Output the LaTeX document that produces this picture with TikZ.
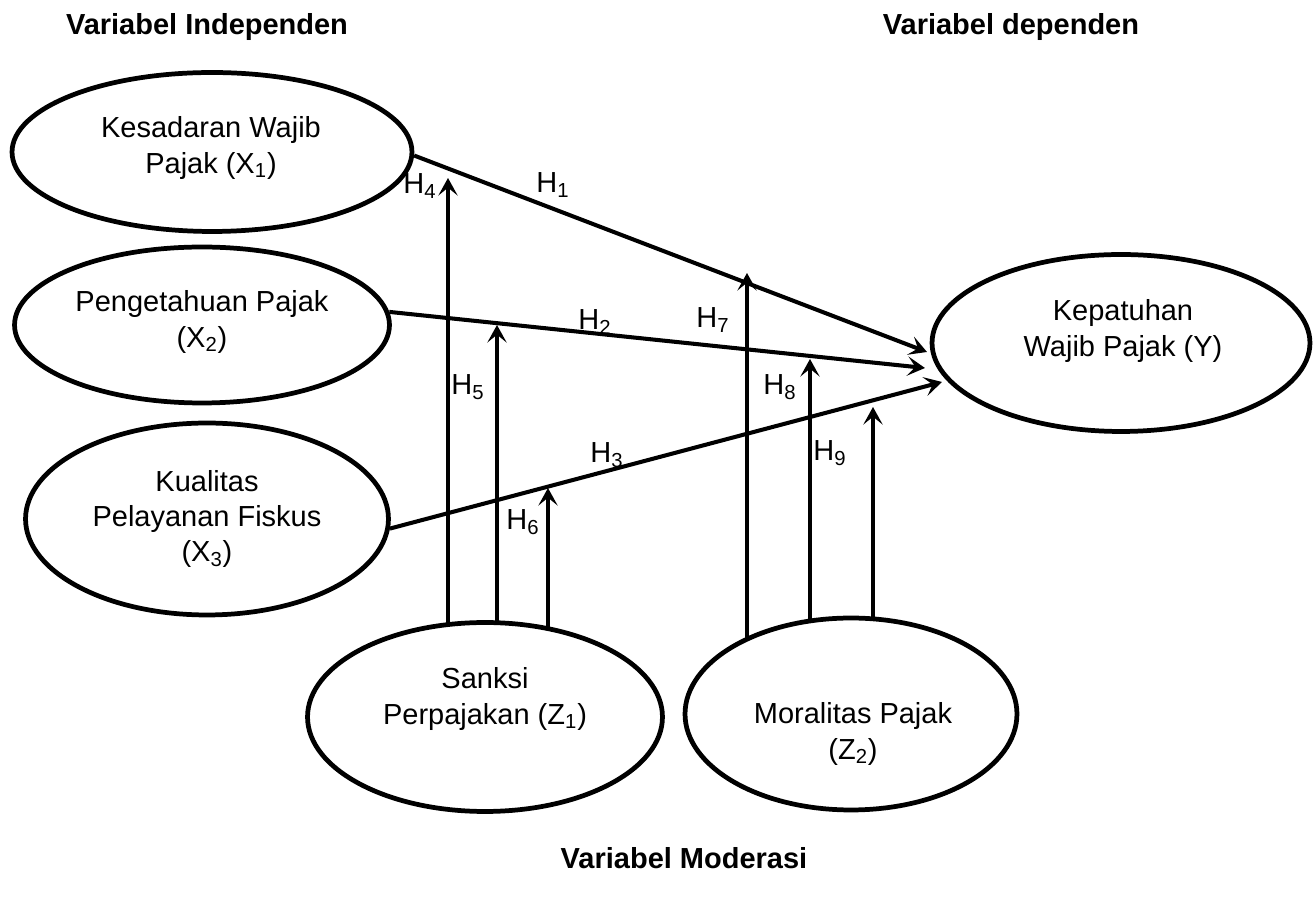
\documentclass[tikz,border=0pt]{standalone}
\usepackage{fontspec}
\setmainfont{Liberation Sans}
\usetikzlibrary{arrows.meta,backgrounds,shapes.geometric}
\begin{document}
\begin{tikzpicture}[x=0.02cm,y=-0.02cm,
  var/.style={draw,ellipse,line width=2.7pt,fill=white,inner sep=0pt},
  txt/.style={align=center,font=\fontsize{16.5}{20}\selectfont,inner sep=0pt},
  hdr/.style={font=\fontsize{16.5}{20}\selectfont\bfseries,inner sep=0pt},
  hl/.style={font=\fontsize{16.5}{20}\selectfont,inner sep=0pt},
  path/.style={line width=2.3pt,-{Stealth[length=10pt,width=11pt,inset=4.5pt]}}]
\useasboundingbox (0,0) rectangle (1313,901);
% ellipses
\node[var,minimum width=8cm,minimum height=3.18cm] (X1) at (212,152) {};
\node[var,minimum width=7.5cm,minimum height=3.12cm] (X2) at (202,325) {};
\node[var,minimum width=7.26cm,minimum height=3.84cm] (X3) at (207,519) {};
\node[var,minimum width=7.56cm,minimum height=3.54cm] (Y) at (1121,343) {};
\node[var,minimum width=7.1cm,minimum height=3.78cm] (Z1) at (485,717) {};
\node[var,minimum width=6.64cm,minimum height=3.84cm] (Z2) at (851,714) {};
% texts
\node[txt] (tX1) at (211,148) {Kesadaran Wajib\\Pajak (X\textsubscript{1})};
\node[txt] (tX2) at (202,322) {Pengetahuan Pajak\\(X\textsubscript{2})};
\node[txt] (tX3) at (207,519) {Kualitas\\Pelayanan Fiskus\\(X\textsubscript{3})};
\node[txt] (tY) at (1123,331) {Kepatuhan\\Wajib Pajak (Y)};
\node[txt] (tZ1) at (485,699) {Sanksi\\Perpajakan (Z\textsubscript{1})};
\node[txt] (tZ2) at (853,734) {Moralitas Pajak\\(Z\textsubscript{2})};
% headers
\node[hdr] (h1) at (207,27) {Variabel Independen};
\node[hdr] (h2) at (1011,27) {Variabel dependen};
\node[hdr] (h3) at (684,858) {Variabel Moderasi};
% arrow tips
\coordinate (e1) at (927,352);
\coordinate (e2) at (925,368);
\coordinate (e3) at (942,382);
\coordinate (t4) at (448,178);
\coordinate (t5) at (497,325);
\coordinate (t6) at (548,488);
\coordinate (t7) at (747,273);
\coordinate (t8) at (810,359);
\coordinate (t9) at (873,407);
\begin{scope}[on background layer]
\draw[path] (X1.-1.5) -- (e1);
\draw[path] (X2.4) -- (e2);
\draw[path] (X3.-3.5) -- (e3);
\draw[path] (t4 |- Z1.center) -- (t4);
\draw[path] (t5 |- Z1.center) -- (t5);
\draw[path] (t6 |- Z1.center) -- (t6);
\draw[path] (t7 |- Z2.center) -- (t7);
\draw[path] (t8 |- Z2.center) -- (t8);
\draw[path] (t9 |- Z2.center) -- (t9);
\end{scope}
% hypothesis labels
\node[hl] (H1) at (553,185) {H\textsubscript{1}};
\node[hl] (H2) at (595,322) {H\textsubscript{2}};
\node[hl] (H3) at (607,455) {H\textsubscript{3}};
\node[hl] (H4) at (420,186) {H\textsubscript{4}};
\node[hl] (H5) at (468,387) {H\textsubscript{5}};
\node[hl] (H6) at (523,522) {H\textsubscript{6}};
\node[hl] (H7) at (713,320) {H\textsubscript{7}};
\node[hl] (H8) at (780,387) {H\textsubscript{8}};
\node[hl] (H9) at (830,453) {H\textsubscript{9}};
\end{tikzpicture}
\end{document}
